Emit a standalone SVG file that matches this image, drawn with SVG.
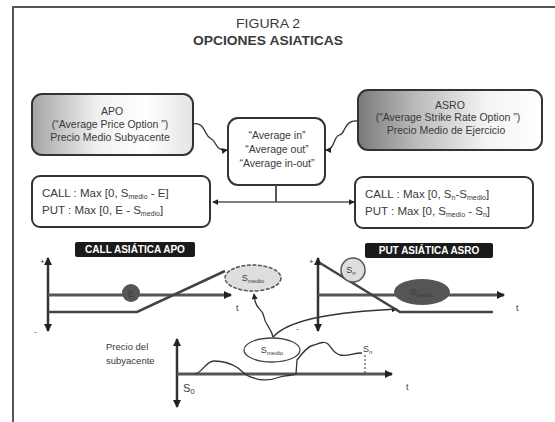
<svg xmlns="http://www.w3.org/2000/svg" width="555" height="422" viewBox="0 0 555 422">
<defs>
<linearGradient id="gApo" x1="0" y1="0" x2="1" y2="0">
<stop offset="0" stop-color="#a4a4a4"/><stop offset="0.4" stop-color="#f0f0f0"/><stop offset="0.7" stop-color="#ffffff"/><stop offset="1" stop-color="#e4e4e4"/>
</linearGradient>
<linearGradient id="gAsro" x1="0" y1="0" x2="1" y2="0">
<stop offset="0" stop-color="#7a7a7a"/><stop offset="0.3" stop-color="#b8b8b8"/><stop offset="0.7" stop-color="#f4f4f4"/><stop offset="1" stop-color="#ffffff"/>
</linearGradient>
<marker id="ah" viewBox="0 0 8 8" refX="7" refY="4" markerWidth="8" markerHeight="8" markerUnits="userSpaceOnUse" orient="auto-start-reverse">
<path d="M0,0 L8,4 L0,8 z" fill="#222"/>
</marker>
<marker id="ahs" viewBox="0 0 8 8" refX="7" refY="4" markerWidth="6" markerHeight="6" markerUnits="userSpaceOnUse" orient="auto-start-reverse">
<path d="M0,0 L8,4 L0,8 z" fill="#222"/>
</marker>
</defs>
<style>
.box{stroke:#333;stroke-width:2;}
.t{font-family:"Liberation Sans",Arial,sans-serif;fill:#3a3a3a;}
.bx{font-size:10.5px;text-anchor:middle;}
.fm{font-size:11.5px;}
.sub{font-size:7px;}
.lbl{font-family:"Liberation Sans",Arial,sans-serif;font-size:10px;font-weight:bold;fill:#fff;text-anchor:middle;}
.sm{font-size:8px;}
.conn{fill:none;stroke:#333;stroke-width:1.3;}
.axis{fill:none;stroke:#333;stroke-width:2.5;}
.hax{fill:none;stroke:#555;stroke-width:3;}
.pay{fill:none;stroke:#444;stroke-width:2.5;}
</style>
<rect width="555" height="422" fill="#fff"/>
<path d="M13,422 V7 H555" fill="none" stroke="#555" stroke-width="2"/>
<text class="t" x="268" y="28" font-size="13" text-anchor="middle" textLength="64" lengthAdjust="spacingAndGlyphs" fill="#222">FIGURA 2</text>
<text class="t" x="268" y="45" font-size="13" font-weight="bold" text-anchor="middle" textLength="150" lengthAdjust="spacingAndGlyphs" fill="#111">OPCIONES ASIATICAS</text>

<g id="apo">
<rect class="box" x="32" y="94" width="161" height="61" rx="10" fill="url(#gApo)"/>
<text class="t bx" x="112" y="115">APO</text>
<text class="t bx" x="110" y="128">(“Average Price Option ”)</text>
<text class="t bx" x="110" y="141">Precio Medio Subyacente</text>
</g>
<g id="asro">
<rect class="box" x="358" y="90" width="184" height="60" rx="10" fill="url(#gAsro)"/>
<text class="t bx" x="450" y="109">ASRO</text>
<text class="t bx" x="448" y="121">(“Average Strike Rate Option ”)</text>
<text class="t bx" x="446" y="134">Precio Medio de Ejercicio</text>
</g>
<g id="avg">
<rect class="box" x="228" y="118" width="97" height="67" rx="10" fill="#fff"/>
<text class="t bx" x="277" y="139">“Average in”</text>
<text class="t bx" x="277" y="153">“Average out”</text>
<text class="t bx" x="277" y="167">“Average in-out”</text>
</g>
<g id="payoff-apo">
<rect class="box" x="32" y="176" width="178" height="51" rx="8" fill="#fff"/>
<text class="t fm" x="42" y="197">CALL : Max [0, S<tspan class="sub" dy="2">medio</tspan><tspan dy="-2"> - E]</tspan></text>
<text class="t fm" x="42" y="214">PUT : Max [0, E - S<tspan class="sub" dy="2">medio</tspan><tspan dy="-2">]</tspan></text>
</g>
<g id="payoff-asro">
<rect class="box" x="355" y="177" width="178" height="51" rx="8" fill="#fff"/>
<text class="t fm" x="365" y="198">CALL : Max [0, S<tspan class="sub" dy="2">n</tspan><tspan dy="-2">-S</tspan><tspan class="sub" dy="2">medio</tspan><tspan dy="-2">]</tspan></text>
<text class="t fm" x="365" y="215">PUT : Max [0, S<tspan class="sub" dy="2">medio</tspan><tspan dy="-2"> - S</tspan><tspan class="sub" dy="2">n</tspan><tspan dy="-2">]</tspan></text>
</g>

<g id="connectors">
<path class="conn" d="M193,124 C200,122 203,127 206,133 C209,140 212,137 215,143 C218,149 222,151 227,150" marker-end="url(#ahs)"/>
<path class="conn" d="M358,121 C350,120 347,124 344,130 C341,138 338,132 335,140 C332,148 330,150 326,150" marker-end="url(#ahs)"/>
<path d="M276,185 V202" fill="none" stroke="#555" stroke-width="2"/>
<path d="M213,202 H354" fill="none" stroke="#555" stroke-width="1.6" marker-start="url(#ahs)" marker-end="url(#ahs)"/>
<path class="conn" d="M273,337 C271,327 265,325 264,317 C263,309 257,310 255,301 L254,294" marker-end="url(#ahs)"/>
<path class="conn" d="M273,337 C290,318 340,312 397,309" marker-end="url(#ahs)"/>
</g>

<g id="label-call">
<rect x="75" y="242" width="120" height="15" rx="2" fill="#1a1a1a"/>
<text class="lbl" x="135" y="253">CALL ASIÁTICA APO</text>
</g>
<g id="label-put">
<rect x="365" y="243" width="128" height="15" rx="2" fill="#1a1a1a"/>
<text class="lbl" x="429" y="254">PUT ASIÁTICA ASRO</text>
</g>

<g id="chart-call">
<path class="axis" d="M48,258 V331" marker-start="url(#ah)" marker-end="url(#ah)"/>
<text class="t sm" x="40" y="264">+</text>
<text class="t sm" x="34" y="334">-</text>
<path class="hax" d="M48,295 H231" marker-end="url(#ah)"/>
<path class="pay" d="M48,312 H137 L225,271"/>
<circle cx="131" cy="293" r="9" fill="#555"/>
<text class="t" x="131" y="296.5" font-size="9" text-anchor="middle" fill="#ddd">E</text>
<text class="t" x="236" y="311" font-size="9">t</text>
</g>
<g id="smedio-call">
<ellipse cx="253" cy="278" rx="28" ry="13" fill="#dedede" stroke="#555" stroke-width="1.5" stroke-dasharray="4 1.5"/>
<text class="t" x="253" y="281" font-size="9" text-anchor="middle">S<tspan font-size="6" dy="2">medio</tspan></text>
</g>

<g id="chart-put">
<path class="axis" d="M318,258 V331" marker-start="url(#ah)" marker-end="url(#ah)"/>
<text class="t sm" x="309" y="264">+</text>
<text class="t sm" x="296" y="331">-</text>
<path class="hax" d="M318,295 H504" marker-end="url(#ah)"/>
<path class="pay" d="M320,263 L400,312 H493"/>
<text class="t" x="516" y="311" font-size="9">t</text>
</g>
<g id="sn-put">
<circle cx="353" cy="270" r="12" fill="#dedede" stroke="#555" stroke-width="1.5"/>
<text class="t" x="351" y="273" font-size="9" text-anchor="middle">S<tspan font-size="6" dy="2">n</tspan></text>
</g>
<g id="smedio-put">
<ellipse cx="422" cy="292" rx="28" ry="13" fill="#555"/>
<text class="t" x="422" y="295" font-size="9" text-anchor="middle" fill="#eee">S<tspan font-size="6" dy="2">medio</tspan></text>
</g>

<g id="chart-price">
<path class="axis" d="M177,339 V407" marker-start="url(#ah)" marker-end="url(#ah)"/>
<path class="hax" d="M177,374 H392" marker-end="url(#ah)"/>
<text class="t" x="106" y="350" font-size="9.5">Precio del</text>
<text class="t" x="106" y="364" font-size="9.5">subyacente</text>
<text class="t" x="183" y="392" font-size="11">S<tspan font-size="8" dy="2">0</tspan></text>
<text class="t" x="406" y="390" font-size="9">t</text>
<path d="M195,374 C203,372 206,361 214,361 C224,361 232,364 238,368 C243,372 246,377 254,378 C262,381 272,380 280,377 C286,375 292,376 296,374 L297,360 C303,352 308,346 314,345 C320,343 324,341 328,344 C332,348 333,353 340,355 C348,357 352,353 362,353" fill="none" stroke="#333" stroke-width="1.3"/>
<path d="M365,355 V374" fill="none" stroke="#333" stroke-width="1" stroke-dasharray="2 2"/>
<text class="t" x="363" y="352" font-size="9">S<tspan font-size="6" dy="2">n</tspan></text>
</g>
<g id="smedio-price">
<ellipse cx="272" cy="350" rx="28" ry="12" fill="#fff" stroke="#444" stroke-width="1.3"/>
<text class="t" x="272" y="353" font-size="9" text-anchor="middle">S<tspan font-size="6" dy="2">medio</tspan></text>
</g>
</svg>
